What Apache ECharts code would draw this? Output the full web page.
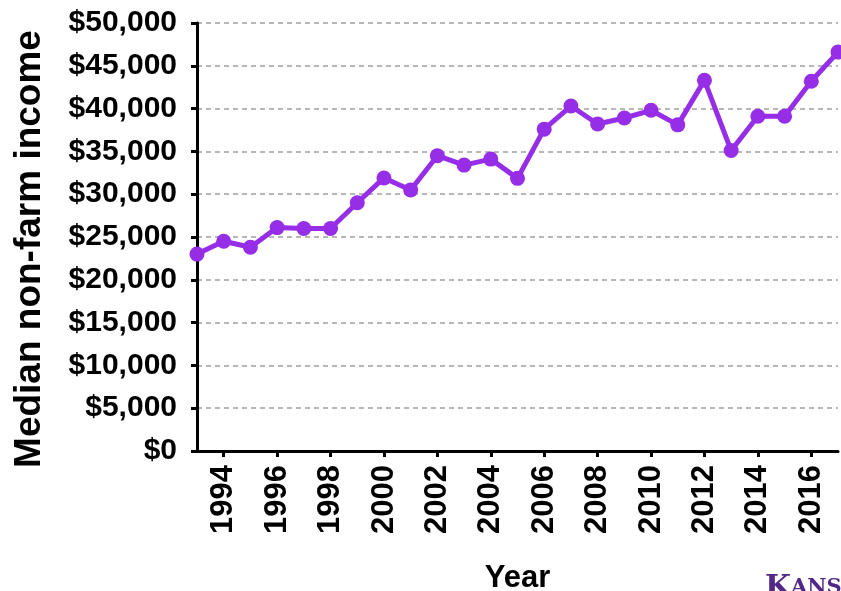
<!DOCTYPE html>
<html>
<head>
<meta charset="utf-8">
<title>Median non-farm income</title>
<script src="https://cdn.jsdelivr.net/npm/echarts@6/dist/echarts.min.js"></script>
<style>
  html, body { margin: 0; padding: 0; background: #fff; }
  #chart { width: 841px; height: 591px; }
</style>
</head>
<body>
<div id="chart"></div>
<script>
// Data
const years = ['1993', '1994', '1995', '1996', '1997', '1998', '1999', '2000', '2001',
  '2002', '2003', '2004', '2005', '2006', '2007', '2008', '2009', '2010', '2011',
  '2012', '2013', '2014', '2015', '2016', '2017'];
const income = [23000, 24500, 23800, 26100, 26000, 26000, 29000, 31900, 30500,
  34500, 33400, 34100, 31850, 37600, 40300, 38200, 38900, 39800, 38100,
  43300, 35100, 39100, 39100, 43200, 46600];

const purple = '#962ee8';
const font = '"Liberation Sans", Arial, sans-serif';

const chart = echarts.init(document.getElementById('chart'));

// only even years get a tick and a label
const everyOther = (index) => index % 2 === 1;

const option = {
  animation: false,
  grid: {
    left: 197,
    right: 3,
    top: 23,
    bottom: 140,
    outerBoundsMode: 'none'
  },
  xAxis: {
    type: 'category',
    data: years,
    boundaryGap: false,
    name: 'Year',
    nameLocation: 'middle',
    nameGap: 112,
    nameTextStyle: {
      fontFamily: font,
      fontWeight: 'bold',
      fontSize: 31,
      color: '#000'
    },
    axisLine: { lineStyle: { color: '#000', width: 3 } },
    axisTick: {
      interval: everyOther,
      length: 6,
      lineStyle: { color: '#000', width: 3 }
    },
    axisLabel: {
      interval: everyOther,
      rotate: 90,
      margin: 14,
      fontFamily: font,
      fontWeight: 'bold',
      fontSize: 31,
      color: '#000'
    },
    splitLine: { show: false }
  },
  yAxis: {
    type: 'value',
    min: 0,
    max: 50000,
    interval: 5000,
    axisLine: { show: true, lineStyle: { color: '#000', width: 3 } },
    axisTick: {
      show: true,
      length: 6,
      lineStyle: { color: '#000', width: 3 }
    },
    axisLabel: {
      margin: 20,
      fontFamily: font,
      fontWeight: 'bold',
      fontSize: 30,
      color: '#000',
      formatter: (v) => '$' + v.toLocaleString('en-US')
    },
    splitLine: {
      show: true,
      lineStyle: { color: '#a0a0a0', width: 1.5, type: [5, 4] }
    }
  },
  series: [
    {
      type: 'line',
      data: income,
      symbol: 'circle',
      symbolSize: 15,
      clip: false,
      lineStyle: { color: purple, width: 5 },
      itemStyle: { color: purple }
    }
  ],
  graphic: [
    {
      // y axis title, placed by hand so it sits where the original does
      type: 'text',
      x: 30,
      y: 249,
      rotation: Math.PI / 2,
      style: {
        text: 'Median non-farm income',
        fontFamily: font,
        fontWeight: 'bold',
        fontSize: 37,
        fill: '#000',
        align: 'center',
        verticalAlign: 'middle'
      }
    },
    {
      type: 'text',
      left: 765,
      top: 573,
      style: {
        text: '{k|K}{r|ANSAS STATE}',
        rich: {
          k: { fontFamily: '"DejaVu Serif", serif', fontWeight: 'bold', fontSize: 30, fill: '#512888' },
          r: { fontFamily: '"DejaVu Serif", serif', fontWeight: 'bold', fontSize: 21, fill: '#512888' }
        }
      }
    }
  ]
};

chart.setOption(option);
</script>
</body>
</html>
